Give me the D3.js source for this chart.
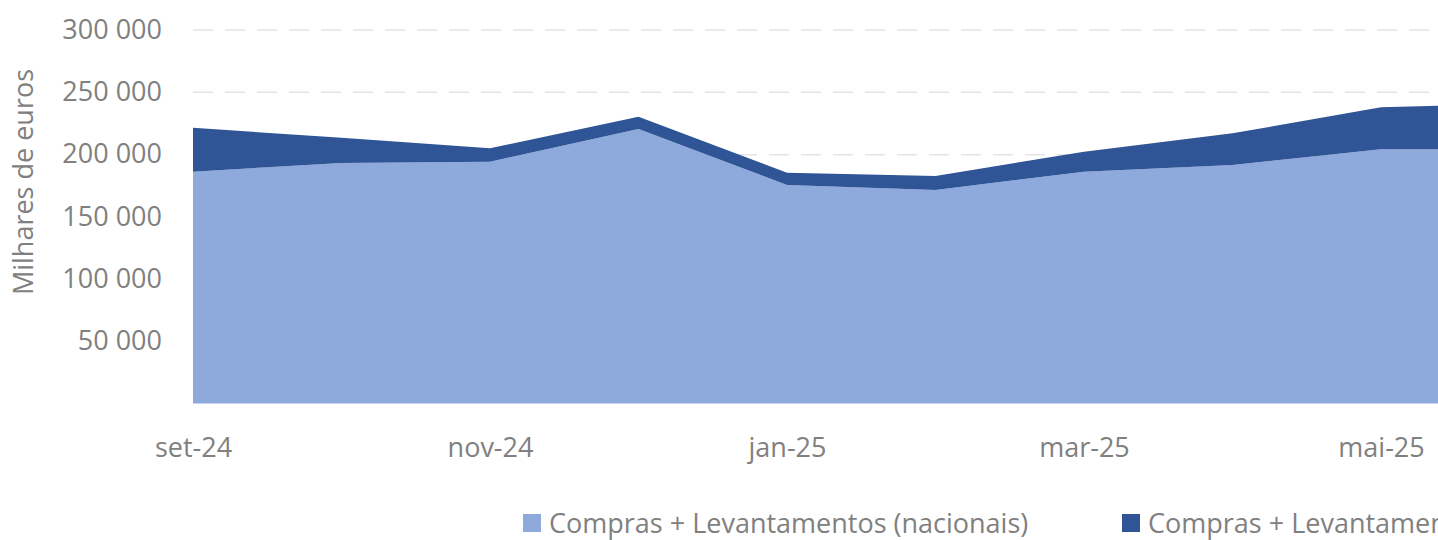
<!DOCTYPE html>
<html>
<head>
<meta charset="utf-8">
<script src="https://cdn.jsdelivr.net/npm/d3@7"></script>
<style>
  body { margin: 0; width: 1438px; height: 540px; overflow: hidden; background: #fff; }
  svg { display: block; }
  svg text { font-family: "Open Sans", "Noto Sans", sans-serif; }
  .axis text { fill: #808080; font-size: 27px; }
</style>
</head>
<body>
<script>
const months = ["set-24", "out-24", "nov-24", "dez-24", "jan-25", "fev-25", "mar-25", "abr-25", "mai-25", "jun-25"];
const nacionais = [185900, 193000, 194000, 220200, 175300, 171300, 185900, 191300, 203900, 204000];
const internacionais = [35300, 20100, 10700, 9800, 9800, 11200, 16100, 25400, 33700, 37000];
const yTicks = [50000, 100000, 150000, 200000, 250000, 300000];
const xTickLabels = ["set-24", "nov-24", "jan-25", "mar-25", "mai-25"];
const seriesNames = ["Compras + Levantamentos (nacionais)", "Compras + Levantamentos (internacionais)"];

const colors = {
  light: "#8EA9DB",
  dark: "#2F5597",
  grid: "#E4E4E4",
  text: "#808080"
};

const w = 1600;
const h = 540;
const left = 193;
const step = 148.5;

const rows = months.map((m, i) => ({ month: m, nac: nacionais[i], int: internacionais[i] }));
const stacked = d3.stack().keys(["nac", "int"])(rows);

const x = d3.scalePoint()
  .domain(months)
  .range([left, left + step * (months.length - 1)]);

const y = d3.scaleLinear()
  .domain([0, 300000])
  .range([403.5, 29.5]);

const fmt = d3.formatLocale({ decimal: ",", thousands: " ", grouping: [3], currency: ["", "€"] }).format(",");

const svg = d3.select("body")
  .append("svg")
  .attr("width", w)
  .attr("height", h);

// gridlines
svg.append("g")
  .attr("transform", `translate(${left},0)`)
  .call(d3.axisRight(y).tickValues(yTicks).tickSize(w).tickFormat(""))
  .call(g => g.select(".domain").remove())
  .call(g => g.selectAll("line")
    .attr("stroke", colors.grid)
    .attr("stroke-width", 1.5)
    .attr("stroke-dasharray", "20 12"));

const area = d3.area()
  .x(d => x(d.data.month))
  .y0(d => y(d[0]))
  .y1(d => y(d[1]));

svg.selectAll("path.area")
  .data(stacked)
  .enter()
  .append("path")
  .attr("class", "area")
  .attr("fill", (d, i) => i === 0 ? colors.light : colors.dark)
  .attr("d", area);

svg.append("g")
  .attr("class", "axis")
  .attr("transform", `translate(${left},0)`)
  .call(d3.axisLeft(y).tickValues(yTicks).tickSize(0).tickPadding(31).tickFormat(fmt))
  .call(g => g.select(".domain").remove())
  .call(g => g.attr("font-family", null).attr("font-size", null));

svg.append("g")
  .attr("class", "axis")
  .attr("transform", `translate(0,${y(0)})`)
  .call(d3.axisBottom(x).tickValues(xTickLabels).tickSize(0).tickPadding(34))
  .call(g => g.select(".domain").remove())
  .call(g => g.attr("font-family", null).attr("font-size", null));

svg.append("text")
  .attr("transform", "translate(33,182) rotate(-90)")
  .attr("text-anchor", "middle")
  .attr("fill", colors.text)
  .attr("font-size", 27)
  .text("Milhares de euros");

// legend
const legendX = [523, 1122];
const legend = svg.selectAll("g.legend")
  .data(seriesNames)
  .enter()
  .append("g")
  .attr("class", "legend")
  .attr("transform", (d, i) => `translate(${legendX[i]},514)`);

legend.append("rect")
  .attr("width", 18)
  .attr("height", 18)
  .attr("fill", (d, i) => i === 0 ? colors.light : colors.dark);

legend.append("text")
  .attr("x", 26)
  .attr("y", 19)
  .attr("fill", colors.text)
  .attr("font-size", 27)
  .text(d => d);
</script>
</body>
</html>
